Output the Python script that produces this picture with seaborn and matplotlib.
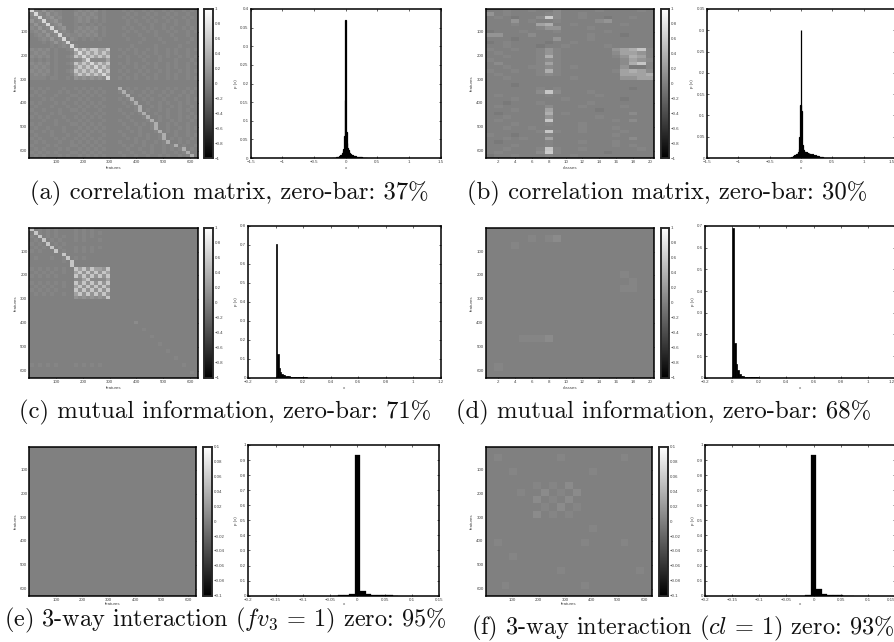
import numpy as np
import pandas as pd
import matplotlib
matplotlib.use("Agg")
import matplotlib.pyplot as plt
import seaborn as sns

W, H = 895, 642

# grey level of each matrix character, as a fraction of vmax
LEVELS = {".": 0.0, "n": -0.05, "m": -0.1, "1": 0.04, "2": 0.09, "3": 0.16, "4": 0.27,
          "5": 0.36, "6": 0.55, "7": 0.6, "8": 0.55, "9": 0.68}

A_ROWS = [
    "92131211... 121212.1. .. .1.1..1.1..1.1..1.1.",
    "29213121... 212121.1. .. ..1.1..1.1..1.1..1..",
    "12912312... 121212.1. .. .1.1..1.1..1.1..1.1.",
    "31291231... 1212.1.1. .. ..1.1..1.1..1.1..1..",
    "13129123... 1.1.1.1.. .. ..1..1..1..1..1..1..",
    "213129123.. 121212.1. .. .1.1..1.1..1.1..1.1.",
    "1213129121. 212121.1. .. ..1.1..1.1..1.1..1.1",
    ".1213129121 121212.1. .. .1...1...1...1...1..",
    "..1213129.2 1.1.1.1.. .. ..1...1...1...1...1.",
    "...1.13129. ......... .. .....1.....1.....1..",
    ".....1.1219 1........ .. ...1.....1.....1....",
    "21212.1..12 946466446 .. 1.1.1..1.1..1.1..1.1",
    "12121.1...1 494646464 .. .1..1.1..1..1.1..1..",
    "21212.1..12 649464646 .. 1.1..1.1..1.1..1.1.1",
    "1.1.1.1...1 224922224 .. ..1...1...1...1...1.",
    "21212.1..12 646494646 .. 1.1.1..1.1..1.1..1.1",
    "12121.1...1 464649464 .. .1..1.1..1..1.1..1..",
    "21212.1..12 646464946 .. 1.1..1.1..1.1..1.1.1",
    "12121.1...1 464646494 .. .1..1.1..1..1.1..1..",
    "1111.11..1. 323232329 .. 1.1.1..1.1..1.1..1.1",
    "........... ......... .. ....................",
    "........... ......... .. ....................",
    "1.1.1...1.. 1.1.1.1.. .. 5.1.1..1.1..1.1..1.1",
    ".1.1...1.1. .1.1.1.1. .. 15.1..1.1..1.1..1.1.",
    "1.1...1...1 1.1.1.1.. .. .15..1.1..1.1..1.1..",
    "...1.1...1. .1.1...1. .. 1.15..1.1..1..1..1.1",
    "1.1...1.1.. 1.1.1.1.. .. .1.15..1..1.1..1.1..",
    ".1...1...1. .1.1.1.1. .. ..1.15..1.1..1.1..1.",
    "1..1...1..1 1.1...1.. .. 1...15.1..1.1..1.1..",
    ".1...1.1... .1.1.1.1. .. .1.1.15..1..1..1..1.",
    "1.1.1...1.. 1.1.1.1.. .. ..1...15..1.1..1.1.1",
    "...1..1..1. .1.1...1. .. 1..1...15.1..1.1..1.",
    "1.1...1...1 1.1.1.1.. .. .1..1.1.15..1.1..1..",
    ".1..1...1.. .1.1.1.1. .. ..1..1..15..1..1.1.1",
    "1..1.1..1.. 1.1.1.1.. .. 1..1.1...15.1.1..1..",
    ".1...1...1. .1.1...1. .. .1...1.1..15..1..1.1",
    "1.1...1.1.. 1.1.1.1.. .. ..1.1..1..15.1.1..1.",
    ".1.1...1..1 .1.1.1.1. .. 1...1.1..1.15..1.1..",
    "1...1.1...1 1.1.1.1.. .. .1.1..1.1..1.15.1..1",
    ".1.1...1.1. .1.1.1.1. .. ..1..1..1..1.1.15.1.",
    "1.1.1.1...1 1.1.1.1.. .. 1..1..1.1..1..1.15..",
    ".1.1...1.1. .1.1.1.1. .. .1..1..1..1.1..1.15.",
]

C_ROWS = [
    "8.1.1.1.... 1.1.1.... .. ....................",
    ".81.1.1.... 1.1.1.1.. .. ....................",
    "1.8.1.1.1.. 1.1.1.... .. ....................",
    ".1.8.1.1... 1.1...1.. .. ....................",
    "1.1.8.1.1.. ......... .. ....................",
    ".1.1.8.1... 1.1.1.1.. .. ....................",
    "1.1...8.1.. 1.1.1.... .. ....................",
    "........8.. ......... .. ....................",
    ".1...1..18. 1.1...... .. ....................",
    "........1.8 ......... .. ....................",
    "..........6 ......... .. ....................",
    "1.1.1.1.1.. 846364436 .. ....................",
    ".1.1.1..1.. 483636364 .. ....................",
    "1.1.1.1.... 638363636 .. ....................",
    "........... 224822224 .. ....................",
    "1.1.1.1.1.. 636383636 .. ....................",
    ".1.1.1..1.. 463638363 .. ....................",
    "1.1.1.1.... 636363836 .. ....................",
    ".1.1.1..1.. 463636383 .. ....................",
    "........... 323232328 .. ....................",
    "........... ......... .. ....................",
    "........... ......... .. ....................",
    "........... ......... .. ....................",
    "........... ......... .. ....................",
    "........... ......... .. ....................",
    "........... ......... .. ....................",
    "........... ......... .. ....2...............",
    "........... ......... .. ....................",
    "........... ......... .. ......1.............",
    "........... ......... .. ....................",
    "........... ......... .. ........1...........",
    "........... ......... .. ....................",
    "........... ......... .. ..........1.........",
    "........... ......... .. ....................",
    "........... ......... .. ............1.......",
    "........... ......... .. ....................",
    "........... ......... .. ..............1.....",
    "........... ......... .. ....................",
    "1.1.1.1.... 1.1.1.1.. .. ................1...",
    "........... ......... .. ....................",
    "........... ......... .. ..................1.",
    "........... ......... .. ....................",
]

B_ROWS = [
    "..1..1..2....1....1.", "3.1....12..1........", ".1.n..272..1..n..1..",
    "...3.1..1....23.....", "...1..45..1.....1...", "......133...1.......",
    "n...1...1.....1.....", "33...2......1...n...", "...n....3...1.......",
    "n.1....n..1.........", "..1...n..1....1.....", "1..1..131......34561",
    ".1....131......24431", "..1...151......13541", "1.....121.......2432",
    ".2....141.......2561", "..1..1121.1.....3nn1", "1..1..151......14542",
    ".1....121.......4445", "..1.......1.....3344", "....................",
    "...n................", "......1.1........n..", "......262...1.......",
    ".1.....1.....1......", "...1.....1......n...", "..n...1.....1.......",
    ".1.....2...1....1...", "...1...4.....n......", ".n.....5.1.......2..",
    "..1....3.....1......", ".1.....6.......1.2..", "...1...1...1........",
    "..1..1.....1...1....", "......161..1....1...", "1..n...1.......1....",
    "..1.1..4.........2..", ".n.....1...1...1....", "...1...1.......1.1..",
    "..1...161..1......1.", ".1....271.....n.....", "n..1...1..1.........",
]

D_ROWS = [
    "....................", ".....1.12...........", "...1................",
    "....................", "....................", "....................",
    "................1...", ".................1..", "................11..",
    "....................", "....................", "....................",
    "....................", "....................", "....................",
    "....1112............", "....................", "....................",
    "....................", ".1..................", "....................",
]

E_ROWS = ["...", "...", "..."]

F_ROWS = [
    ".....................", ".1.......1.......1...", ".....................",
    "...1.........1.......", ".....................", "......1.1.2..........",
    "....1..2.1.2.........", "......2.1.2..........", ".......1.2.1.........",
    "......2.1.1..........", ".....................", ".............1.......",
    ".....................", ".1..........1....1...", ".....................",
    "...1.................", ".....................", ".........1.........1.",
    ".....................", "..1.........1........", ".....................",
]

FEATURE_TICKS = [100, 200, 300, 400, 500, 600]
CLASS_TICKS = [2, 4, 6, 8, 10, 12, 14, 16, 18, 20]
CBAR_TICKS = [-1, -0.8, -0.6, -0.4, -0.2, 0, 0.2, 0.4, 0.6, 0.8, 1]
CBAR_TICKS_SMALL = [-0.1, -0.08, -0.06, -0.04, -0.02, 0, 0.02, 0.04, 0.06, 0.08, 0.1]

# histogram heights, one list per panel
A_HIST = [.0004, .0005, .0006, .0008, .001, .0012, .0016, .002, .0025, .003,
          .004, .005, .006, .007, .009, .011, .014, .018, .024, .06, .155, .37,
          .07, .04, .028, .022, .017, .014, .012, .01, .009, .008, .007, .006,
          .0055, .005, .0045, .004, .0035, .003, .003, .0025, .0025, .002, .002,
          .0018, .0016, .0014, .0012, .001, .001, .0009, .0008, .0007, .0006]
B_HIST = [.0005, .001, .0015, .002, .002, .003, .004, .005, .006, .007,
          .008, .009, .01, .012, .014, .02, .05, .125, .30,
          .11, .03, .02, .018, .016, .015, .014, .014, .013, .012, .012, .01, .011,
          .009, .01, .008, .008, .009, .007, .006, .007, .005, .006, .004, .005,
          .004, .003, .004, .003, .002, .003, .002, .002, .002, .001, .001]
C_HIST = [.705, .125, .05, .032, .022, .016, .012, .01, .008, .007,
          .006, .005, .0045, .004, .0035, .003, .003, .0025, .0025, .002,
          .002, .0015, .0015, .001, .001, .001, .0008, .0006, .0005, .0004]
D_HIST = [.69, .16, .065, .035, .018, .01, .007, .005, .004, .003,
          .002, .002, .0015, .001, .001, .0008, .0006, .0005, .0004, .0003]
E_HIST = [.0008, .0015, .002, .008, .935, .03, .012, .006, .004, .003, .002, .001]
F_HIST = [.0005, .001, .001, .005, .935, .047, .014, .006, .005, .002, .001, .0005]

CAPTIONS = [
    "(a) correlation matrix, zero-bar: 37%",
    "(b) correlation matrix, zero-bar: 30%",
    "(c) mutual information, zero-bar: 71%",
    "(d) mutual information, zero-bar: 68%",
    "(e) 3-way interaction ($fv_3$ = 1) zero: 95%",
    "(f) 3-way interaction ($cl$ = 1) zero: 93%",
]


def px_axes(fig, x0, y0, x1, y1):
    # pixel box measured from the top left of the image
    return fig.add_axes([x0 / W, 1 - y1 / H, (x1 - x0) / W, (y1 - y0) / H])


def fmt(v):
    return f"{v:g}".replace("-", "\u2212")


def parse(rows, vmax):
    table = []
    for r in rows:
        cells = "".join(r.split())
        table.append([LEVELS[c] * vmax for c in cells])
    return pd.DataFrame(table)


def style(ax):
    for s in ax.spines.values():
        s.set_visible(True)
        s.set_linewidth(1.1)
        s.set_color("black")
    ax.tick_params(which="both", direction="in", length=1.6, width=0.5, top=True, right=True,
                   bottom=True, left=True, labelsize=3.2, labelcolor="#444444", pad=1.5)


def draw_matrix(fig, box, cbox, rows, vmax, xlabel, cbar_ticks, xpad=1.5):
    ax = px_axes(fig, *box)
    cax = px_axes(fig, *cbox)
    df = parse(rows, vmax)
    sns.heatmap(df, ax=ax, cbar_ax=cax, cmap="gray", vmin=-vmax, vmax=vmax)
    nrows, ncols = df.shape
    if xlabel == "classes":
        ax.set_xticks([(t - 0.5) * ncols / 20 for t in CLASS_TICKS])
        ax.set_xticklabels([fmt(t) for t in CLASS_TICKS], rotation=0)
    else:
        ax.set_xticks([t / 630 * ncols for t in FEATURE_TICKS])
        ax.set_xticklabels([fmt(t) for t in FEATURE_TICKS], rotation=0)
    ax.set_yticks([t / 630 * nrows for t in FEATURE_TICKS])
    ax.set_yticklabels([fmt(t) for t in FEATURE_TICKS], rotation=0)
    ax.set_xlabel(xlabel, fontsize=3.2, color="#444444", labelpad=xpad)
    ax.set_ylabel("features", fontsize=3.2, color="#444444", labelpad=1.5)
    style(ax)
    cax.set_yticks(cbar_ticks)
    cax.set_yticklabels([fmt(t) for t in cbar_ticks])
    cax.tick_params(direction="in", length=1.6, width=0.5, left=True, right=True,
                    labelsize=3.2, labelcolor="#444444", pad=1)
    for s in cax.spines.values():
        s.set_visible(True)
        s.set_linewidth(1.1)
    cax.set_frame_on(True)


def draw_hist(fig, box, heights, first, width, xlim, ylim, xticks, yticks, lw=0.2, xpad=1.5):
    ax = px_axes(fig, *box)
    last = first + width * len(heights)
    centers = first + width * (np.arange(len(heights)) + 0.5)
    sns.histplot(x=centers, weights=heights, binwidth=width, binrange=(first, last), ax=ax,
                 color="black", edgecolor="black", linewidth=lw, alpha=1)
    ax.set_xlim(*xlim)
    ax.set_ylim(*ylim)
    ax.set_xticks(xticks)
    ax.set_xticklabels([fmt(t) for t in xticks])
    ax.set_yticks(yticks)
    ax.set_yticklabels([fmt(t) for t in yticks])
    ax.set_xlabel("x", fontsize=3.2, color="#444444", labelpad=xpad)
    ax.set_ylabel("p (x)", fontsize=3.2, color="#444444", labelpad=1.5)
    style(ax)
    # the right column runs to the image edge, keep its last label inside
    if box[2] >= W:
        ax.get_xticklabels()[-1].set_ha("right")


sns.set_theme(style="white")
plt.rcParams["font.family"] = ["Liberation Sans", "DejaVu Sans"]
plt.rcParams["mathtext.fontset"] = "cm"
plt.rcParams["axes.unicode_minus"] = False

fig = plt.figure(figsize=(W / 100, H / 100), dpi=100)

draw_matrix(fig, (29.5, 8.5, 198, 158), (204.5, 8.5, 213, 158), A_ROWS, 1, "features", CBAR_TICKS)
draw_matrix(fig, (485.7, 8.5, 654, 158), (661, 8.5, 669.3, 158), B_ROWS, 1, "classes", CBAR_TICKS)
draw_matrix(fig, (29.5, 227.7, 198, 377.7), (204.5, 227.7, 213, 377.7), C_ROWS, 1, "features", CBAR_TICKS)
draw_matrix(fig, (485.7, 227.7, 654, 377.7), (661, 227.7, 669.3, 377.7), D_ROWS, 1, "classes", CBAR_TICKS)
draw_matrix(fig, (29.5, 446.7, 196, 595.7), (203, 446.7, 212, 595.7), E_ROWS, 0.1, "features", CBAR_TICKS_SMALL, xpad=0.2)
draw_matrix(fig, (485.7, 446.7, 652.3, 595.7), (659.3, 446.7, 668.3, 595.7), F_ROWS, 0.1, "features", CBAR_TICKS_SMALL, xpad=0.2)

wide = [-1.5, -1, -0.5, 0, 0.5, 1, 1.5]
mi = [-0.2, 0, 0.2, 0.4, 0.6, 0.8, 1, 1.2]
narrow = [-0.2, -0.15, -0.1, -0.05, 0, 0.05, 0.1, 0.15]
tenths = [0, 0.1, 0.2, 0.3, 0.4, 0.5, 0.6, 0.7, 0.8, 0.9, 1]

draw_hist(fig, (250.7, 9, 440.7, 158), A_HIST, -0.215, 0.01, (-1.5, 1.5), (0, 0.4), wide,
          [0, 0.05, 0.1, 0.15, 0.2, 0.25, 0.3, 0.35, 0.4], lw=0.9)
draw_hist(fig, (707, 9, 895, 158), B_HIST, -0.185, 0.01, (-1.5, 1.5), (0, 0.35), wide,
          [0, 0.05, 0.1, 0.15, 0.2, 0.25, 0.3, 0.35], lw=0.9)
draw_hist(fig, (248.3, 226, 440.7, 377.7), C_HIST, 0, 0.01, (-0.2, 1.2), (0, 0.8), mi,
          [0, 0.1, 0.2, 0.3, 0.4, 0.5, 0.6, 0.7, 0.8], lw=0.5)
draw_hist(fig, (705, 226, 895, 377.7), D_HIST, 0, 0.0125, (-0.2, 1.2), (0, 0.7), mi,
          [0, 0.1, 0.2, 0.3, 0.4, 0.5, 0.6, 0.7], lw=0.5)
draw_hist(fig, (248.3, 445, 439.3, 595.7), E_HIST, -0.045, 0.01, (-0.2, 0.15), (0, 1), narrow, tenths, xpad=0.2)
draw_hist(fig, (705, 445, 895, 595.7), F_HIST, -0.045, 0.01, (-0.2, 0.15), (0, 1), narrow, tenths, xpad=0.2)

cap_x = [229, 667, 225, 664, 225, 683]
cap_y = [199, 199, 418, 418, 626, 634]
cap_size = [17.8, 17.8, 17.8, 17.8, 17.5, 17.5]
for text, x, y, size in zip(CAPTIONS, cap_x, cap_y, cap_size):
    fig.text(x / W, 1 - y / H, text, family="cmr10", fontsize=size, color="#111111",
             ha="center", va="baseline")

fig.savefig("out.png", dpi=100)
